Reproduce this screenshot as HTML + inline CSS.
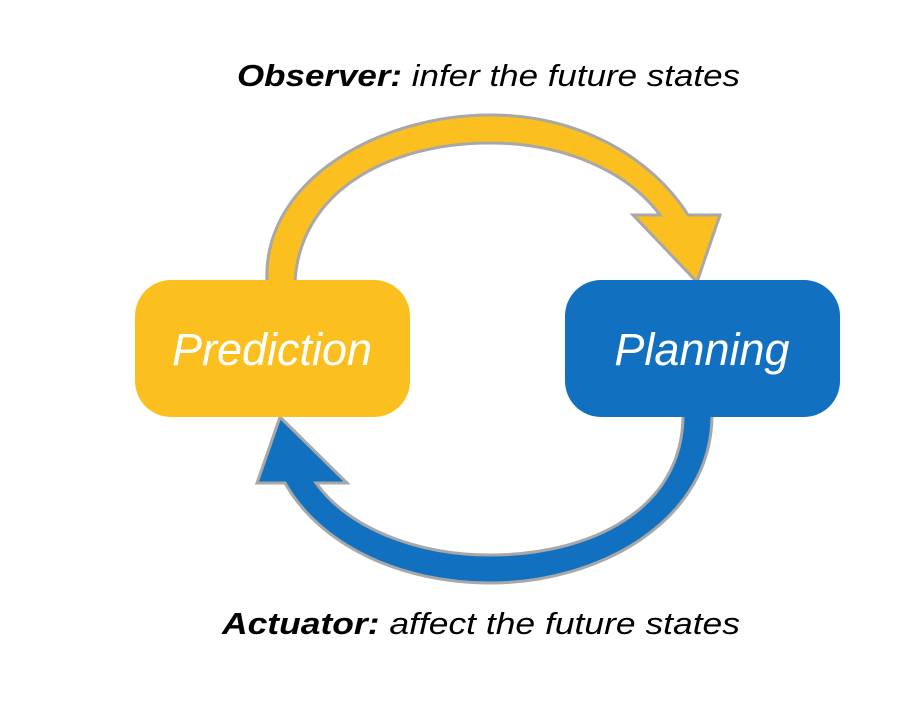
<!DOCTYPE html>
<html><head><style>
body{margin:0;background:#fff;}
svg{display:block}
</style></head><body>
<svg width="909" height="708" viewBox="0 0 909 708" xmlns="http://www.w3.org/2000/svg">
<rect width="909" height="708" fill="#fff"/>
<path d="M267,282 C262,180 380,115 490,115 C580,115 652,158 688,215 L720,215 L697,282 L633,215 L660,215 C628,172 565,143 490,143 C390,143 300,190 295,282 Z" fill="#FBBF1F" stroke="#a8a8a8" stroke-width="3" stroke-linejoin="miter"/>
<path d="M712,415 C712,520 600,583 490,583 C400,583 320,545 285,483 L257,483 L280,417 L347,483 L316,483 C350,530 420,555 490,555 C590,555 683,510 683,415 Z" fill="#1270C0" stroke="#a8a8a8" stroke-width="3"/>
<rect x="135" y="280" width="275" height="137" rx="36" fill="#FBBF1F"/>
<rect x="565" y="280" width="275" height="137" rx="36" fill="#1270C0"/>
<text x="272" y="365" text-anchor="middle" font-family="Liberation Sans, sans-serif" font-style="italic" font-size="45" fill="#fff">Prediction</text>
<text x="702" y="365" text-anchor="middle" font-family="Liberation Sans, sans-serif" font-style="italic" font-size="45" fill="#fff">Planning</text>
<text x="237" y="86" font-family="Liberation Sans, sans-serif" font-size="31" fill="#000" textLength="503" lengthAdjust="spacingAndGlyphs"><tspan font-weight="bold" font-style="italic">Observer:</tspan><tspan font-style="italic"> infer the future states</tspan></text>
<text x="222" y="634" font-family="Liberation Sans, sans-serif" font-size="31" fill="#000" textLength="518" lengthAdjust="spacingAndGlyphs"><tspan font-weight="bold" font-style="italic">Actuator:</tspan><tspan font-style="italic"> affect the future states</tspan></text>
</svg>
</body></html>
